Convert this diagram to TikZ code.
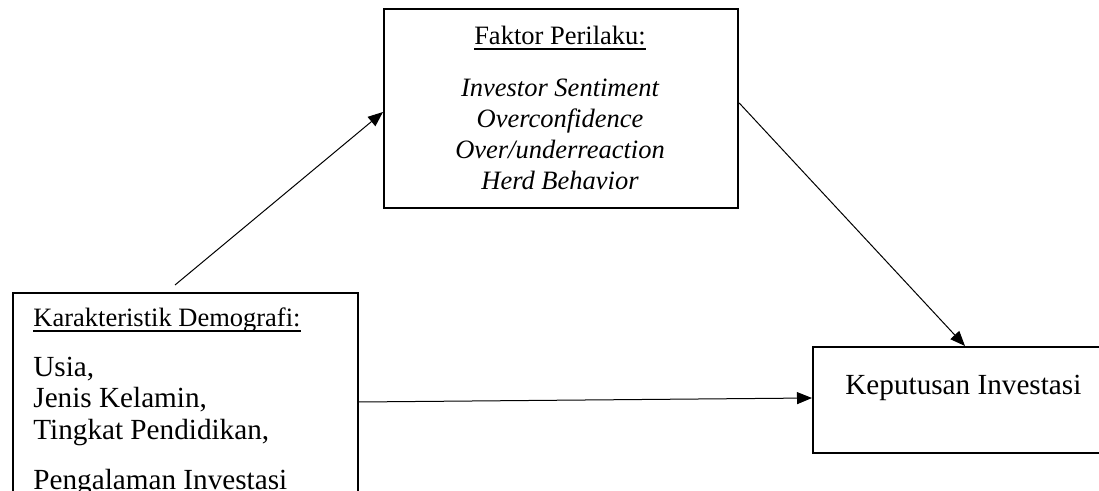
\documentclass[tikz,border=0pt]{standalone}
\usepackage{fontspec}
\setmainfont{Liberation Serif}
\usetikzlibrary{arrows.meta}
\newcommand{\ulbox}[1]{\setbox0\hbox{#1}\rlap{\rule[-2.3pt]{\wd0}{0.6pt}}\box0}

\tikzset{
  kotak/.style={draw, line width=1.1pt, inner sep=0pt, anchor=north west},
  teks/.style={inner sep=0pt, font=\fontsize{13.25}{15.5}\selectfont},
  teksbesar/.style={inner sep=0pt, font=\fontsize{14.6}{17}\selectfont},
  panah/.style={-{Triangle[length=7.5pt,width=6pt]}, line width=0.5pt},
}

\begin{document}
\begin{tikzpicture}[x=0.5pt, y=-0.5pt]
  \useasboundingbox (0,0) rectangle (1099,491);
  \clip (0,0) rectangle (1099,491);
  % kotak
  \node[kotak, minimum width=172.5pt, minimum height=120pt] (demo) at (12,292) {};
  \node[kotak, minimum width=177pt, minimum height=99.5pt] (perilaku) at (383,8) {};
  \node[kotak, minimum width=160pt, minimum height=53pt] (keputusan) at (812,346) {};
  % faktor perilaku
  \node[teks, anchor=base] (judul1) at (560,45) {\ulbox{Faktor Perilaku:}};
  \node[teks, anchor=base] (f1) at (560,97) {\itshape Investor Sentiment};
  \node[teks, anchor=base] (f2) at (560,128) {\itshape Overconfidence};
  \node[teks, anchor=base] (f3) at (560,159) {\itshape Over/underreaction};
  \node[teks, anchor=base] (f4) at (560,190) {\itshape Herd Behavior};
  % demografi
  \node[teks, anchor=base west] (judul2) at (33,327) {\ulbox{Karakteristik Demografi:}};
  \node[teksbesar, anchor=base west] (d1) at (33,377) {Usia,};
  \node[teksbesar, anchor=base west] (d2) at (33,408) {Jenis Kelamin,};
  \node[teksbesar, anchor=base west] (d3) at (33,440) {Tingkat Pendidikan,};
  \node[teksbesar, anchor=base west] (d4) at (33,490) {Pengalaman Investasi};
  % keputusan
  \node[teksbesar, anchor=base west] (k1) at (845,395) {Keputusan Investasi};
  % panah
  \coordinate (awal) at (175,285);
  \draw[panah] (awal) -- ([yshift=-52pt]perilaku.north west);
  \draw[panah] ([yshift=-47.5pt]perilaku.north east) -- ([xshift=76.5pt]keputusan.north west);
  \draw[panah] ([yshift=-55pt]demo.north east) -- ([yshift=-26pt]keputusan.north west);
\end{tikzpicture}
\end{document}
